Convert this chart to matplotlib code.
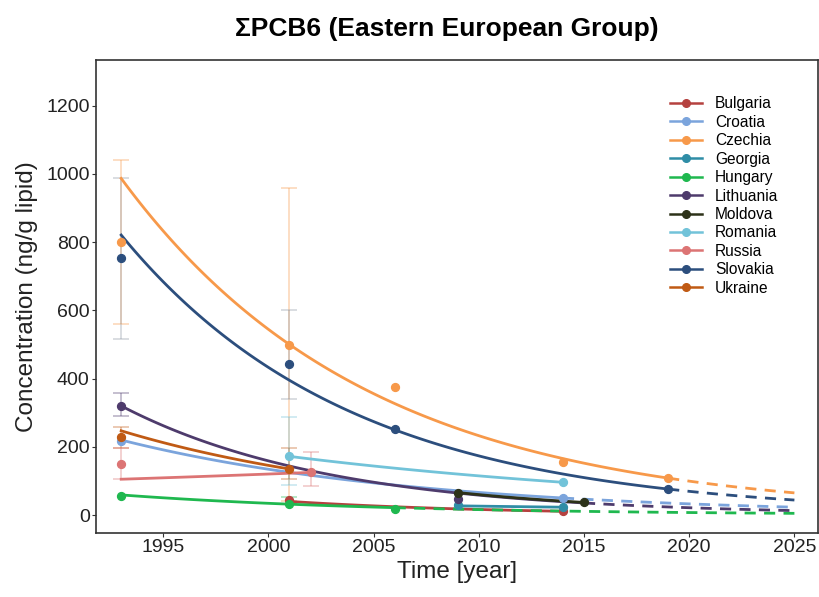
import matplotlib
matplotlib.use("Agg")
import matplotlib.pyplot as plt
import numpy as np
from matplotlib.lines import Line2D

plt.rcParams["font.family"] = ["Liberation Sans", "DejaVu Sans"]

paises = ["Bulgaria", "Croatia", "Czechia", "Georgia", "Hungary", "Lithuania",
          "Moldova", "Romania", "Russia", "Slovakia", "Ukraine"]
cores = {
    "Bulgaria": "#b5413f",
    "Croatia": "#7ba4dc",
    "Czechia": "#f7994a",
    "Georgia": "#2f8da6",
    "Hungary": "#1fb84f",
    "Lithuania": "#4e3b6c",
    "Moldova": "#2d3219",
    "Romania": "#72c3d9",
    "Russia": "#dc7474",
    "Slovakia": "#2c4e7d",
    "Ukraine": "#c05a14",
}

# medias observadas (ano, valor)
anos = {
    "Bulgaria": [2001, 2014],
    "Croatia": [1993, 2014],
    "Czechia": [1993, 2001, 2006, 2014, 2019],
    "Georgia": [2009, 2014],
    "Hungary": [1993, 2001, 2006],
    "Lithuania": [1993, 2009],
    "Moldova": [2009, 2015],
    "Romania": [2001, 2014],
    "Russia": [1993, 2002],
    "Slovakia": [1993, 2001, 2006, 2019],
    "Ukraine": [1993, 2001],
}
valores = {
    "Bulgaria": [44, 12],
    "Croatia": [217, 51],
    "Czechia": [800, 500, 374, 156, 108],
    "Georgia": [29, 24],
    "Hungary": [56, 32, 18],
    "Lithuania": [320, 46],
    "Moldova": [66, 37],
    "Romania": [173, 96],
    "Russia": [150, 125],
    "Slovakia": [753, 442, 252, 76],
    "Ukraine": [228, 135],
}

# barras de erro (ano, minimo, maximo)
erros = {
    "Czechia": [(1993, 560, 1041), (2001, 42, 958)],
    "Slovakia": [(1993, 516, 987), (2001, 339, 601)],
    "Lithuania": [(1993, 290, 357)],
    "Ukraine": [(1993, 196, 259), (2001, 105, 196)],
    "Russia": [(1993, 105, 196), (2002, 85, 186)],
    "Romania": [(2001, 88, 286)],
    "Hungary": [(2001, 32, 53)],
}

# curvas ajustadas: valor lido no inicio e no fim, ano final do trecho solido
ajuste_inicio = {
    "Bulgaria": (2001, 40), "Croatia": (1993, 220), "Czechia": (1993, 987),
    "Georgia": (2009, 27), "Hungary": (1993, 59), "Lithuania": (1993, 320),
    "Moldova": (2009, 66), "Romania": (2001, 172), "Russia": (1993, 105),
    "Slovakia": (1993, 821), "Ukraine": (1993, 247),
}
ajuste_fim = {
    "Bulgaria": (2014, 11), "Croatia": (2025, 23), "Czechia": (2025, 65),
    "Georgia": (2014, 23), "Hungary": (2025, 5), "Lithuania": (2025, 13),
    "Moldova": (2015, 37), "Romania": (2014, 96), "Russia": (2002, 125),
    "Slovakia": (2025, 44), "Ukraine": (2001, 135),
}
fim_solido = {
    "Croatia": 2014, "Czechia": 2019, "Hungary": 2006,
    "Lithuania": 2015, "Slovakia": 2019,
}

fig = plt.figure(figsize=(8.2, 5.97), dpi=100)
ax = fig.add_axes([0.117, 0.107, 0.880, 0.793])

for pais, lista in erros.items():
    for ano, lo, hi in lista:
        ax.errorbar([ano], [(lo + hi) / 2], yerr=[[(hi - lo) / 2], [(hi - lo) / 2]],
                    fmt="none", ecolor=cores[pais] if pais != "Slovakia" else "#8c96a3",
                    alpha=0.35, capsize=6, elinewidth=1.3, capthick=1.3, zorder=1)

for pais in paises:
    c = cores[pais]
    a0, v0 = ajuste_inicio[pais]
    a1, v1 = ajuste_fim[pais]
    taxa = np.log(v1 / v0) / (a1 - a0)
    quebra = fim_solido.get(pais, a1)
    t = np.linspace(a0, quebra, 120)
    ax.plot(t, v0 * np.exp(taxa * (t - a0)), color=c, lw=2.0, zorder=2)
    if quebra < a1:
        t2 = np.linspace(quebra, a1, 60)
        ax.plot(t2, v0 * np.exp(taxa * (t2 - a0)), color=c, lw=2.0,
                ls=(0, (4, 3)), zorder=2)
    ax.scatter(anos[pais], valores[pais], color=c, s=32, zorder=3)

ax.set_xlim(1991.8, 2026.1)
ax.set_ylim(-53, 1335)
ax.set_xticks([1995, 2000, 2005, 2010, 2015, 2020, 2025])
ax.set_yticks([0, 200, 400, 600, 800, 1000, 1200])
ax.tick_params(labelsize=14, length=3, pad=1.5, color="#333333", labelcolor="#222222")
for s in ax.spines.values():
    s.set_color("#333333")
    s.set_linewidth(1.2)

ax.set_xlabel("Time [year]", fontsize=17.5, color="#222222", labelpad=3)
ax.set_ylabel("Concentration (ng/g lipid)", fontsize=17.5, color="#222222", labelpad=6)
fig.suptitle("ΣPCB6 (Eastern European Group)", fontsize=19, fontweight="bold",
             y=0.972, x=0.545)

handles = [Line2D([0], [0], color=cores[p], lw=1.8, marker="o", markersize=5.5)
           for p in paises]
ax.legend(handles, paises, loc="upper right", bbox_to_anchor=(0.965, 0.952),
          frameon=False, fontsize=11.2, handlelength=2.1, labelspacing=0.22,
          handletextpad=0.8)

fig.savefig("out.png", dpi=100)
